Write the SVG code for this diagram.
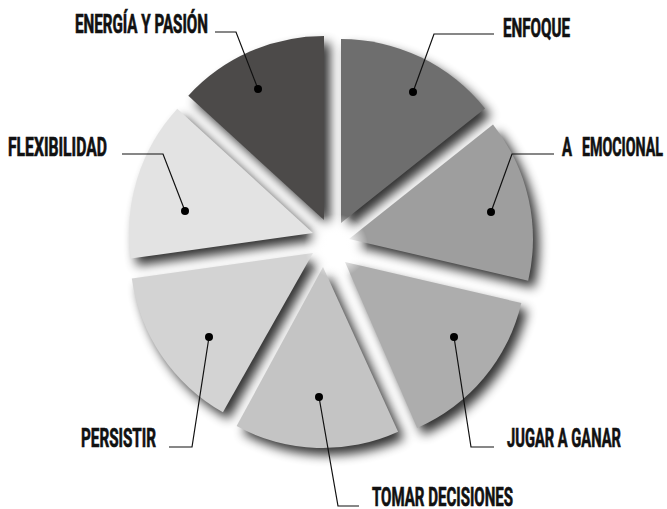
<svg xmlns="http://www.w3.org/2000/svg" xmlns:xlink="http://www.w3.org/1999/xlink" width="667" height="509" viewBox="0 0 667 509">
<style>
.lbl{font-family:"Roboto","Liberation Sans",sans-serif;font-weight:700;font-size:26px;fill:#111;stroke:#111;stroke-width:0.7}
.end{text-anchor:end}
.ld{fill:none;stroke:#111;stroke-width:1.2}
.dot{fill:#000}
</style>
<defs>
<filter id="sh" x="-20%" y="-20%" width="140%" height="140%"><feGaussianBlur stdDeviation="5.5"/></filter>
<radialGradient id="glow"><stop offset="0" stop-color="#fff" stop-opacity="1"/><stop offset="0.45" stop-color="#fff" stop-opacity="0.9"/><stop offset="1" stop-color="#fff" stop-opacity="0"/></radialGradient>
<path id="s1" d="M324,220 L188.3,95.7 A184,184 0 0 1 324,36 Z"/>
<path id="s2" d="M341,223 L341,39 A184,184 0 0 1 485,108.5 Z"/>
<path id="s3" d="M349,239 L493,124.5 A184,184 0 0 1 528.2,280.7 Z"/>
<path id="s4" d="M345,262 L521.3,303 A181,181 0 0 1 417.2,428 Z"/>
<path id="s5" d="M323,267 L398.1,431.7 A181,181 0 0 1 236.6,426.1 Z"/>
<path id="s6" d="M313,253 L222.9,412.3 A183,183 0 0 1 131.8,278.5 Z"/>
<path id="s7" d="M313,233 L130.8,258.6 A184,184 0 0 1 177.3,108.7 Z"/>
</defs>
<g id="shadows" filter="url(#sh)" opacity="0.8" fill="#000" transform="translate(6,7)">
<use xlink:href="#s1"/><use xlink:href="#s2"/><use xlink:href="#s3"/><use xlink:href="#s4"/><use xlink:href="#s5"/><use xlink:href="#s6"/><use xlink:href="#s7"/>
</g>
<g id="energia"><use xlink:href="#s1" fill="#4c4a49"/><text class="lbl" x="75" y="33" textLength="133" lengthAdjust="spacingAndGlyphs">ENERGÍA Y PASIÓN</text></g>
<g id="enfoque"><use xlink:href="#s2" fill="#6e6e6e"/><text class="lbl end" x="570" y="37" textLength="67" lengthAdjust="spacingAndGlyphs">ENFOQUE</text></g>
<g id="emocional"><use xlink:href="#s3" fill="#9e9e9e"/><text class="lbl" y="156"><tspan x="562" textLength="10" lengthAdjust="spacingAndGlyphs">A</tspan> <tspan x="582" textLength="81" lengthAdjust="spacingAndGlyphs">EMOCIONAL</tspan></text></g>
<g id="jugar"><use xlink:href="#s4" fill="#adadad"/><text class="lbl end" x="621" y="447" textLength="114" lengthAdjust="spacingAndGlyphs">JUGAR A GANAR</text></g>
<g id="tomar"><use xlink:href="#s5" fill="#c4c4c4"/><text class="lbl end" x="513" y="506" textLength="141" lengthAdjust="spacingAndGlyphs">TOMAR DECISIONES</text></g>
<g id="persistir"><use xlink:href="#s6" fill="#d3d3d3"/><text class="lbl" x="81" y="447" textLength="75" lengthAdjust="spacingAndGlyphs">PERSISTIR</text></g>
<g id="flexibilidad"><use xlink:href="#s7" fill="#e3e3e3"/><text class="lbl" x="8" y="156" textLength="99" lengthAdjust="spacingAndGlyphs">FLEXIBILIDAD</text></g>
<circle cx="336" cy="246" r="32" fill="url(#glow)"/>
<g id="connectors">
<polyline class="ld" points="215,32 236,32 258,89"/><circle class="dot" cx="258" cy="89" r="4"/>
<polyline class="ld" points="494,34 434,34 413,92"/><circle class="dot" cx="413" cy="92" r="4"/>
<polyline class="ld" points="554,154 512,154 491,212"/><circle class="dot" cx="491" cy="212" r="4"/>
<polyline class="ld" points="494,447 471,447 454,337"/><circle class="dot" cx="454" cy="337" r="4"/>
<polyline class="ld" points="359,506 338,506 319,397"/><circle class="dot" cx="319" cy="397" r="4"/>
<polyline class="ld" points="169,447 192,447 209,337"/><circle class="dot" cx="209" cy="337" r="4"/>
<polyline class="ld" points="122,154 163,154 185,211"/><circle class="dot" cx="185" cy="211" r="4"/>
</g>
</svg>
